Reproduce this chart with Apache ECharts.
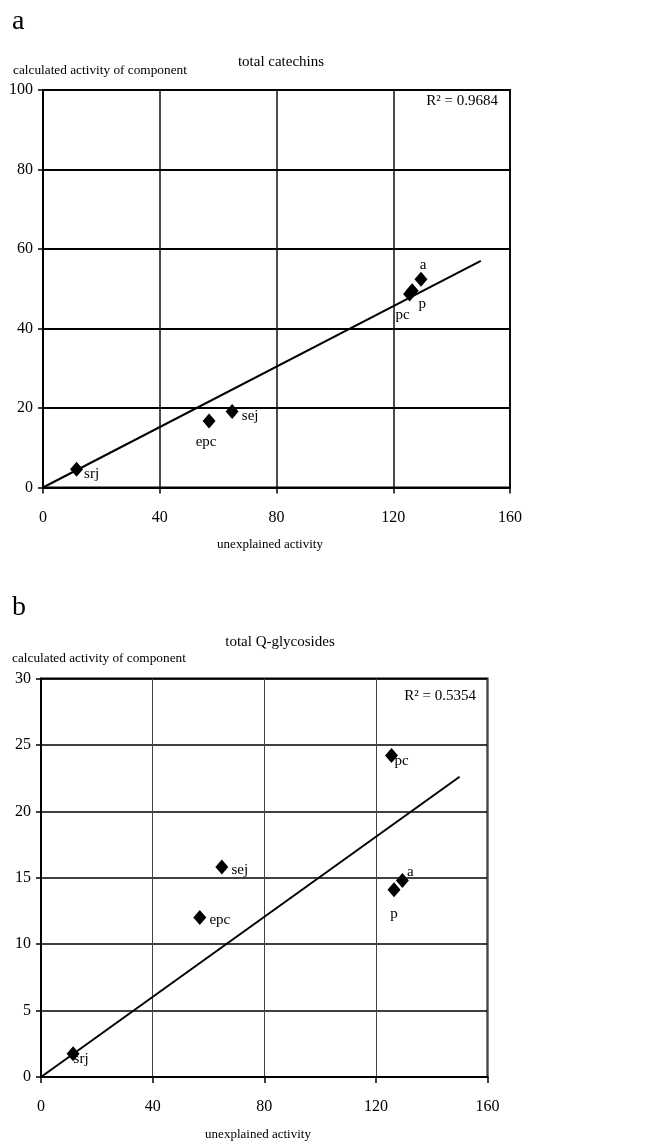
<!DOCTYPE html>
<html>
<head>
<meta charset="utf-8">
<script src="https://cdn.jsdelivr.net/npm/echarts@6/dist/echarts.min.js"></script>
<style>html,body{margin:0;padding:0;background:#fff}#c{width:651px;height:1142px}</style>
</head>
<body>
<div id="c"></div>
<script>
const categories = ['srj', 'epc', 'sej', 'pc', 'p', 'a'];
const unexplainedActivity = [11.5, 56.9, 64.8, 125.6, 126.5, 129.5];
const catechins = [4.6, 16.7, 19.1, 48.7, 49.5, 52.4];
const glycosides = [1.75, 12.0, 15.8, 24.2, 14.1, 14.8];
const catechinsTrend = [[0, 0], [150, 57]];
const glycosidesTrend = [[0, 0], [150, 22.6]];
const xTicks = [0, 40, 80, 120, 160];
const yTicksA = [0, 20, 40, 60, 80, 100];
const yTicksB = [0, 5, 10, 15, 20, 25, 30];

const FONT = '"Liberation Serif", "DejaVu Serif", serif';
const offsetsA = {srj: [15, 5], epc: [-3, 21], sej: [18, 4], pc: [-7, 21], p: [10, 13], a: [2, -14]};
const offsetsB = {srj: [8, 5], epc: [20, 2], sej: [18, 3], p: [0, 24], a: [8, -8], pc: [10, 6]};

function pts(ys, offs) {
  return categories.map((n, i) => ({
    name: n,
    value: [unexplainedActivity[i], ys[i]],
    label: {show: true, formatter: n, position: 'inside', offset: offs[n],
      fontFamily: FONT, fontSize: 15, color: '#000', align: 'center', verticalAlign: 'middle',
      textBorderWidth: 0}
  }));
}

function xAxis(gi) {
  return {
    type: 'value', gridIndex: gi, min: 0, max: 160, interval: 40,
    axisLine: {show: true, lineStyle: {color: '#000', width: 2}},
    axisTick: {show: true, length: 6, lineStyle: {color: '#000', width: 1.5}},
    axisLabel: {margin: 22, fontFamily: FONT, fontSize: 16, color: '#000',
      formatter: v => xTicks.includes(v) ? String(v) : ''},
    splitLine: {show: true, lineStyle: {color: gi === 0 ? '#111' : '#444', width: gi === 0 ? 1.5 : 1}}
  };
}
function yAxis(gi, max, interval, ticks) {
  return {
    type: 'value', gridIndex: gi, min: 0, max: max, interval: interval,
    axisLine: {show: true, lineStyle: {color: '#000', width: 2}},
    axisTick: {show: true, length: 5, lineStyle: {color: '#000', width: 1.5}},
    axisLabel: {margin: 10, fontFamily: FONT, fontSize: 16, color: '#000',
      formatter: v => ticks.includes(v) ? String(v) : ''},
    splitLine: {show: true, lineStyle: {color: '#000', width: gi === 0 ? 2 : 1.5}}
  };
}

const chart = echarts.init(document.getElementById('c'), null, {renderer: 'canvas'});
chart.setOption({
  backgroundColor: '#fff',
  animation: false,
  grid: [
    {left: 43, top: 90, width: 467, height: 397.5, show: true, borderColor: '#000', borderWidth: 2, backgroundColor: 'transparent'},
    {left: 41, top: 678.5, width: 446.5, height: 398.5, show: true, borderColor: '#000', borderWidth: 2, backgroundColor: 'transparent'}
  ],
  xAxis: [xAxis(0), xAxis(1)],
  yAxis: [yAxis(0, 100, 20, yTicksA), yAxis(1, 30, 5, yTicksB)],
  graphic: [
    {type: 'text', left: 12, top: 8, style: {text: 'a', font: '28px ' + FONT, fill: '#000'}},
    {type: 'text', x: 281, y: 62, style: {text: 'total catechins', font: '15px ' + FONT, fill: '#000', textAlign: 'center', textVerticalAlign: 'middle'}},
    {type: 'text', x: 13, y: 71, style: {text: 'calculated activity of component', font: '13.3px ' + FONT, fill: '#000', textAlign: 'left', textVerticalAlign: 'middle'}},
    {type: 'text', x: 498, y: 101, style: {text: 'R² = 0.9684', font: '15px ' + FONT, fill: '#000', textAlign: 'right', textVerticalAlign: 'middle'}},
    {type: 'text', x: 270, y: 545, style: {text: 'unexplained activity', font: '13px ' + FONT, fill: '#000', textAlign: 'center', textVerticalAlign: 'middle'}},

    {type: 'text', left: 12, top: 594, style: {text: 'b', font: '28px ' + FONT, fill: '#000'}},
    {type: 'text', x: 280, y: 642, style: {text: 'total Q-glycosides', font: '15px ' + FONT, fill: '#000', textAlign: 'center', textVerticalAlign: 'middle'}},
    {type: 'text', x: 12, y: 659, style: {text: 'calculated activity of component', font: '13.3px ' + FONT, fill: '#000', textAlign: 'left', textVerticalAlign: 'middle'}},
    {type: 'text', x: 476, y: 696, style: {text: 'R² = 0.5354', font: '15px ' + FONT, fill: '#000', textAlign: 'right', textVerticalAlign: 'middle'}},
    {type: 'text', x: 258, y: 1135, style: {text: 'unexplained activity', font: '13px ' + FONT, fill: '#000', textAlign: 'center', textVerticalAlign: 'middle'}}
  ],
  series: [
    {type: 'line', xAxisIndex: 0, yAxisIndex: 0, data: catechinsTrend, symbol: 'none',
      lineStyle: {color: '#000', width: 2}, silent: true, z: 3},
    {type: 'scatter', xAxisIndex: 0, yAxisIndex: 0, data: pts(catechins, offsetsA),
      symbol: 'diamond', symbolSize: [13, 15], itemStyle: {color: '#000', opacity: 1}, z: 4},
    {type: 'line', xAxisIndex: 1, yAxisIndex: 1, data: glycosidesTrend, symbol: 'none',
      lineStyle: {color: '#000', width: 2}, silent: true, z: 3},
    {type: 'scatter', xAxisIndex: 1, yAxisIndex: 1, data: pts(glycosides, offsetsB),
      symbol: 'diamond', symbolSize: [13, 15], itemStyle: {color: '#000', opacity: 1}, z: 4}
  ]
});
</script>
</body>
</html>
